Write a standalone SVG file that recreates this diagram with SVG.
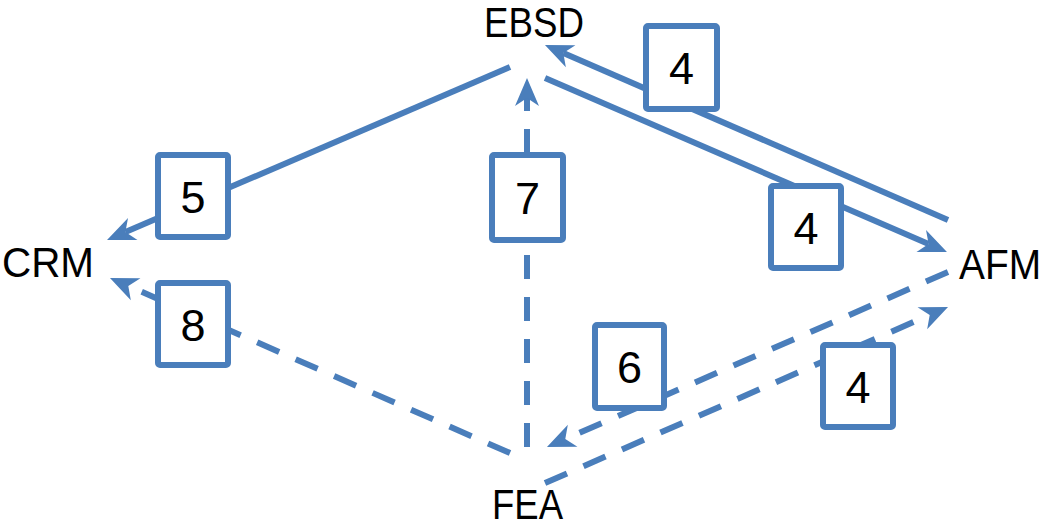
<svg xmlns="http://www.w3.org/2000/svg" width="1050" height="528" viewBox="0 0 1050 528">
<style>
.ln{fill:none;stroke:#4a7ebb;stroke-width:6}
.dash{stroke-dasharray:24 18}
.box rect{fill:#fff;stroke:#4a7ebb;stroke-width:6}
.lbl{font-family:"Liberation Sans",Arial,sans-serif;font-size:43px;fill:#000}
.num{font-family:"Liberation Sans",Arial,sans-serif;font-size:45px;fill:#000;text-anchor:middle}
.ah{fill:#4a7ebb;stroke:none}
</style>
<defs>
<marker id="arr" markerUnits="userSpaceOnUse" viewBox="-10 -14 32 28" refX="0" refY="0" markerWidth="32" markerHeight="28" orient="auto" overflow="visible">
<path class="ah" d="M20,0 L-8,-12 L0,0 L-8,12 Z"/>
</marker>
</defs>
<rect width="1050" height="528" fill="#fff"/>
<g id="connectors">
<line class="ln" x1="510" y1="67" x2="125.4" y2="232.1" marker-end="url(#arr)"/>
<line class="ln" x1="545" y1="78" x2="928.6" y2="244.1" marker-end="url(#arr)"/>
<line class="ln" x1="948" y1="220" x2="563.3" y2="53" marker-end="url(#arr)"/>
<line class="ln dash" x1="527" y1="447" x2="527" y2="98" marker-end="url(#arr)"/>
<line class="ln dash" x1="510" y1="453" x2="128.3" y2="286" marker-end="url(#arr)"/>
<line class="ln dash" x1="948" y1="272" x2="565.3" y2="439" marker-end="url(#arr)"/>
<line class="ln dash" x1="545" y1="483" x2="929.7" y2="315" marker-end="url(#arr)"/>
</g>
<g id="node-EBSD"><text class="lbl" x="484" y="37" font-size="40" textLength="100" lengthAdjust="spacingAndGlyphs">EBSD</text></g>
<g id="node-CRM"><text class="lbl" x="2" y="277" textLength="92" lengthAdjust="spacingAndGlyphs">CRM</text></g>
<g id="node-AFM"><text class="lbl" x="959" y="279" font-size="40" textLength="82" lengthAdjust="spacingAndGlyphs">AFM</text></g>
<g id="node-FEA"><text class="lbl" x="492" y="519" font-size="40" textLength="71" lengthAdjust="spacingAndGlyphs">FEA</text></g>
<g id="box-4a" class="box"><rect x="646" y="26" width="71" height="83" rx="2"/><text class="num" x="681.5" y="84">4</text></g>
<g id="box-5" class="box"><rect x="158" y="155" width="70" height="82" rx="2"/><text class="num" x="193" y="213">5</text></g>
<g id="box-7" class="box"><rect x="492" y="155" width="71" height="85" rx="2"/><text class="num" x="527.5" y="214">7</text></g>
<g id="box-4b" class="box"><rect x="771" y="186" width="70" height="82" rx="2"/><text class="num" x="806" y="244">4</text></g>
<g id="box-8" class="box"><rect x="158" y="283" width="70" height="82" rx="2"/><text class="num" x="193" y="341">8</text></g>
<g id="box-6" class="box"><rect x="595" y="325" width="69" height="83" rx="2"/><text class="num" x="629.5" y="383">6</text></g>
<g id="box-4c" class="box"><rect x="823" y="345" width="70" height="82" rx="2"/><text class="num" x="858" y="403">4</text></g>
</svg>
